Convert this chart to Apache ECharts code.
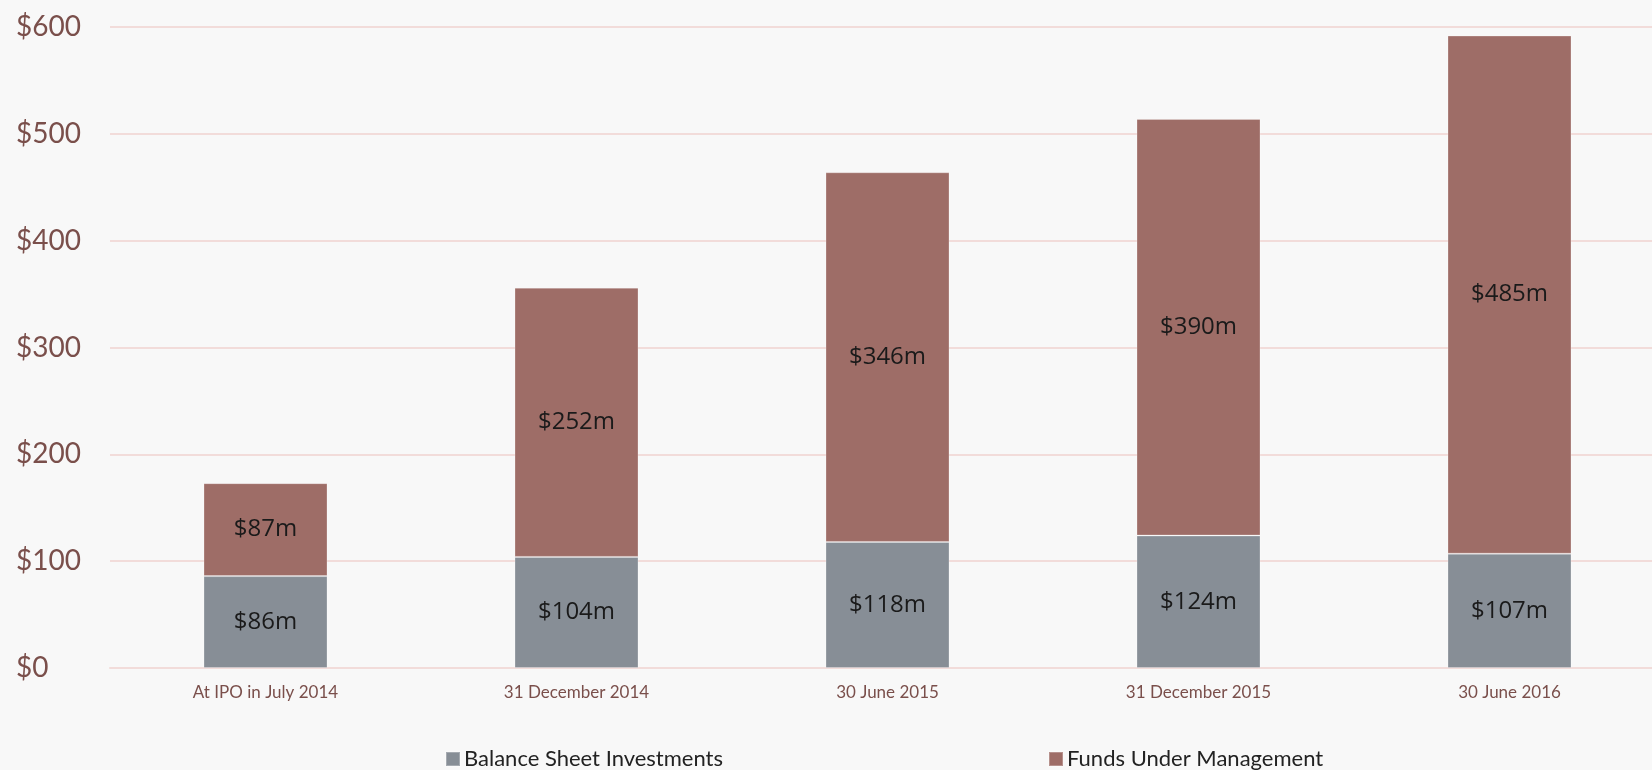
<!DOCTYPE html>
<html>
<head>
<meta charset="utf-8">
<script src="https://cdn.jsdelivr.net/npm/echarts@6/dist/echarts.min.js"></script>
<style>
html,body{margin:0;padding:0;background:#f8f8f8;}
#chart{width:1652px;height:770px;}
</style>
</head>
<body>
<div id="chart"></div>
<script>
var categories = ['At IPO in July 2014', '31 December 2014', '30 June 2015', '31 December 2015', '30 June 2016'];
var balanceSheet = [86, 104, 118, 124, 107];
var fundsUnderMgmt = [87, 252, 346, 390, 485];
var yTicks = [0, 100, 200, 300, 400, 500, 600];

var chart = echarts.init(document.getElementById('chart'));
var labelStyle = {
  show: true,
  position: 'inside',
  formatter: function (p) { return '$' + p.value + 'm'; },
  color: '#1a1a1a',
  fontFamily: 'Open Sans',
  fontSize: 24
};
chart.setOption({
  backgroundColor: '#f8f8f8',
  animation: false,
  grid: { left: 110, top: 27, width: 1555, bottom: 102, outerBoundsMode: 'none', containLabel: false },
  legend: {
    left: 445,
    top: 748,
    padding: 0,
    itemWidth: 14,
    itemHeight: 14,
    itemGap: 325,
    icon: 'rect',
    textStyle: { fontFamily: 'Lato', fontSize: 22, color: '#222', padding: [0, 0, 0, -1] },
    data: ['Balance Sheet Investments', 'Funds Under Management']
  },
  xAxis: {
    type: 'category',
    data: categories,
    axisLine: { show: true, lineStyle: { color: '#f2dcda', width: 2 } },
    axisTick: { show: false },
    axisLabel: { color: '#7a4f4b', fontFamily: 'Lato', fontSize: 17, margin: 16 }
  },
  yAxis: {
    type: 'value',
    min: yTicks[0],
    max: yTicks[yTicks.length - 1],
    interval: 100,
    axisLine: { show: false },
    axisTick: { show: false },
    splitLine: { lineStyle: { color: '#f2dcda', width: 2 } },
    axisLabel: {
      formatter: function (v) { return '$' + v; },
      color: '#7a4f4b',
      fontFamily: 'Lato',
      fontSize: 28,
      align: 'left',
      margin: 94
    }
  },
  series: [
    {
      name: 'Balance Sheet Investments',
      type: 'bar',
      stack: 'total',
      barWidth: 124,
      data: balanceSheet,
      itemStyle: { color: '#878e96', borderColor: 'rgba(255,255,255,0.25)', borderWidth: 1 },
      label: labelStyle
    },
    {
      name: 'Funds Under Management',
      type: 'bar',
      stack: 'total',
      barWidth: 124,
      data: fundsUnderMgmt,
      itemStyle: { color: '#9e6d67', borderColor: 'rgba(255,255,255,0.25)', borderWidth: 1 },
      label: labelStyle
    }
  ]
});
</script>
</body>
</html>
